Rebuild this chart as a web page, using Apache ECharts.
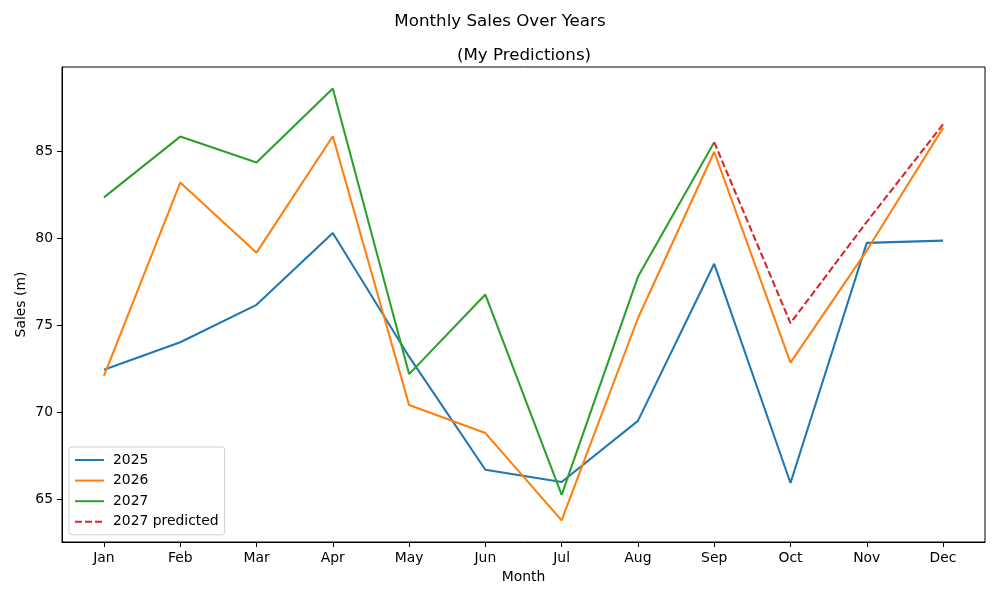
<!DOCTYPE html>
<html>
<head>
<meta charset="utf-8">
<script src="https://cdn.jsdelivr.net/npm/echarts@6/dist/echarts.min.js"></script>
<style>html,body{margin:0;padding:0;background:#fff}#c{width:1000px;height:600px}</style>
</head>
<body>
<div id="c"></div>
<script>
const months = ['Jan','Feb','Mar','Apr','May','Jun','Jul','Aug','Sep','Oct','Nov','Dec'];
const sales2025 = [72.45, 74.03, 76.18, 80.31, 73.2, 66.7, 66.0, 69.51, 78.54, 65.94, 79.74, 79.87];
const sales2026 = [72.1, 83.21, 79.18, 85.87, 70.42, 68.81, 63.79, 75.41, 84.98, 72.86, 79.3, 86.35];
const sales2027 = [82.36, 85.85, 84.36, 88.62, 72.2, 76.77, 65.26, 77.79, 85.53, null, null, null];
const predicted2027 = [null, null, null, null, null, null, null, null, 85.53, 75.13, 80.95, 86.56];
const yTicks = [65, 70, 75, 80, 85];

const toPairs = arr => arr.map((v, i) => [i, v]);
const font = 'DejaVu Sans';
const chart = echarts.init(document.getElementById('c'), null, {renderer: 'canvas'});
const mkSeries = (name, data, color, dashed) => ({
  name, type: 'line', data: toPairs(data), symbol: 'none', showSymbol: false,
  connectNulls: false, animation: false,
  lineStyle: {color, width: 2.08, type: dashed ? [7, 3] : 'solid'},
  itemStyle: {color}
});
chart.setOption({
  animation: false,
  backgroundColor: '#fff',
  title: [
    {text: 'Monthly Sales Over Years', left: 'center', top: 8,
     textStyle: {fontFamily: font, fontSize: 16.7, fontWeight: 'normal', color: '#000'}},
    {text: '(My Predictions)', left: 519, textAlign: 'center', top: 42,
     textStyle: {fontFamily: font, fontSize: 16.7, fontWeight: 'normal', color: '#000'}}
  ],
  grid: {left: 62, right: 15, top: 67, bottom: 58, show: true, borderColor: '#000', borderWidth: 1, backgroundColor: 'transparent'},
  legend: {
    show: true,
    orient: 'vertical', left: 69, top: 447,
    data: ['2025', '2026', '2027', '2027 predicted'],
    itemWidth: 29, itemHeight: 14, itemGap: 6.6,
    padding: [6, 6, 6, 5],
    itemStyle: {opacity: 0},
    backgroundColor: 'rgba(255,255,255,0.8)', borderColor: '#d0d0d0', borderWidth: 1, borderRadius: 3,
    textStyle: {fontFamily: font, fontSize: 13.9, color: '#000', padding: [0, 0, 0, 4]}
  },
  xAxis: {
    type: 'value', min: -0.55, max: 11.55,
    name: 'Month', nameLocation: 'middle', nameGap: 28, nameMoveOverlap: false,
    nameTextStyle: {fontFamily: font, fontSize: 13.9, color: '#000'},
    axisLine: {show: true, onZero: false, lineStyle: {color: '#000', width: 1}},
    axisTick: {show: true, length: 5, inside: false, lineStyle: {color: '#000', width: 1},
               customValues: months.map((m, i) => i)},
    axisLabel: {fontFamily: font, fontSize: 13.9, color: '#000', margin: 9,
                customValues: months.map((m, i) => i),
                formatter: v => months[Math.round(v)] || ''},
    splitLine: {show: false}
  },
  yAxis: {
    type: 'value', min: 62.55, max: 89.85,
    name: 'Sales (m)', nameLocation: 'middle', nameGap: 34, nameMoveOverlap: false,
    nameTextStyle: {fontFamily: font, fontSize: 13.9, color: '#000'},
    axisLine: {show: true, onZero: false, lineStyle: {color: '#000', width: 1}},
    axisTick: {show: true, length: 5, lineStyle: {color: '#000', width: 1}, customValues: yTicks},
    axisLabel: {fontFamily: font, fontSize: 13.9, color: '#000', margin: 9, customValues: yTicks},
    splitLine: {show: false}
  },
  series: [
    mkSeries('2025', sales2025, '#1f77b4', false),
    mkSeries('2026', sales2026, '#ff7f0e', false),
    mkSeries('2027', sales2027, '#2ca02c', false),
    mkSeries('2027 predicted', predicted2027, '#d62728', true)
  ]
});
</script>
</body>
</html>
